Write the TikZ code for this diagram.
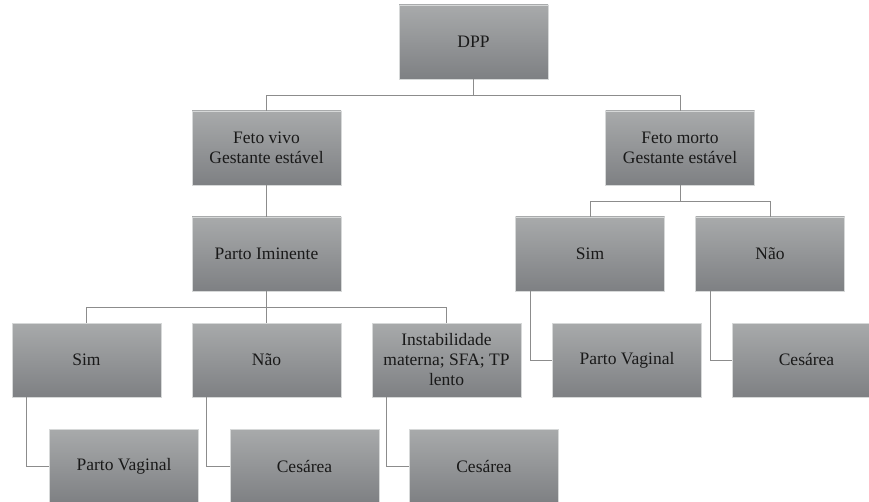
\documentclass[tikz,border=0pt]{standalone}
\usepackage{fontspec}
\setmainfont{Liberation Serif}
\definecolor{boxtop}{RGB}{168,170,171}
\definecolor{boxbottom}{RGB}{126,128,131}
\definecolor{boxedge}{RGB}{214,216,216}
\definecolor{linkgray}{RGB}{140,140,140}
\usetikzlibrary{positioning,calc}

\begin{document}
\begin{tikzpicture}[x=1pt, y=-1pt,
    card/.style={rectangle, minimum width=149pt, minimum height=74pt, inner sep=0pt,
        top color=boxtop, bottom color=boxbottom, draw=boxedge, line width=0.6pt,
        font=\rmfamily\fontsize{17.5}{20}\selectfont, align=center, text=black!90},
    link/.style={draw=linkgray, line width=0.9pt}]
    \useasboundingbox (0,0) rectangle (869,502);
    \node[card] (dpp) at (473.5,42) {DPP};
    \node[card] (vivo) at (266.5,148) {Feto vivo\\Gestante est\'avel};
    \node[card] (morto) at (680,148) {Feto morto\\Gestante est\'avel};
    \node[card] (iminente) at (266.5,254) {Parto Iminente};
    \node[card] (simR) at (590,254) {Sim};
    \node[card] (naoR) at (770,254) {N\~ao};
    \node[card] (simL) at (86.5,360) {Sim};
    \node[card] (naoL) at (266.5,360) {N\~ao};
    \node[card] (inst) at (446.5,360) {Instabilidade\\materna; SFA; TP\\lento};
    \node[card] (vaginalR) at (627,360) {Parto Vaginal};
    \node[card] (cesareaR) at (806.5,360) {Ces\'area};
    \node[card] (vaginalL) at (124,466) {Parto Vaginal};
    \node[card] (cesareaL) at (304.5,466) {Ces\'area};
    \node[card] (cesareaI) at (484,466) {Ces\'area};
    \draw[link] (dpp.south) -- ++(0,16) -| (vivo.north);
    \draw[link] (dpp.south) -- ++(0,16) -| (morto.north);
    \draw[link] (vivo.south) -- (iminente.north);
    \draw[link] (morto.south) -- ++(0,16) -| (simR.north);
    \draw[link] (morto.south) -- ++(0,16) -| (naoR.north);
    \draw[link] (iminente.south) -- ++(0,16) -| (simL.north);
    \draw[link] (iminente.south) -- (naoL.north);
    \draw[link] (iminente.south) -- ++(0,16) -| (inst.north);
    \draw[link] ([xshift=15pt]simR.south west) |- (vaginalR.west);
    \draw[link] ([xshift=15pt]naoR.south west) |- (cesareaR.west);
    \draw[link] ([xshift=15pt]simL.south west) |- (vaginalL.west);
    \draw[link] ([xshift=15pt]naoL.south west) |- (cesareaL.west);
    \draw[link] ([xshift=15pt]inst.south west) |- (cesareaI.west);
\end{tikzpicture}
\end{document}
